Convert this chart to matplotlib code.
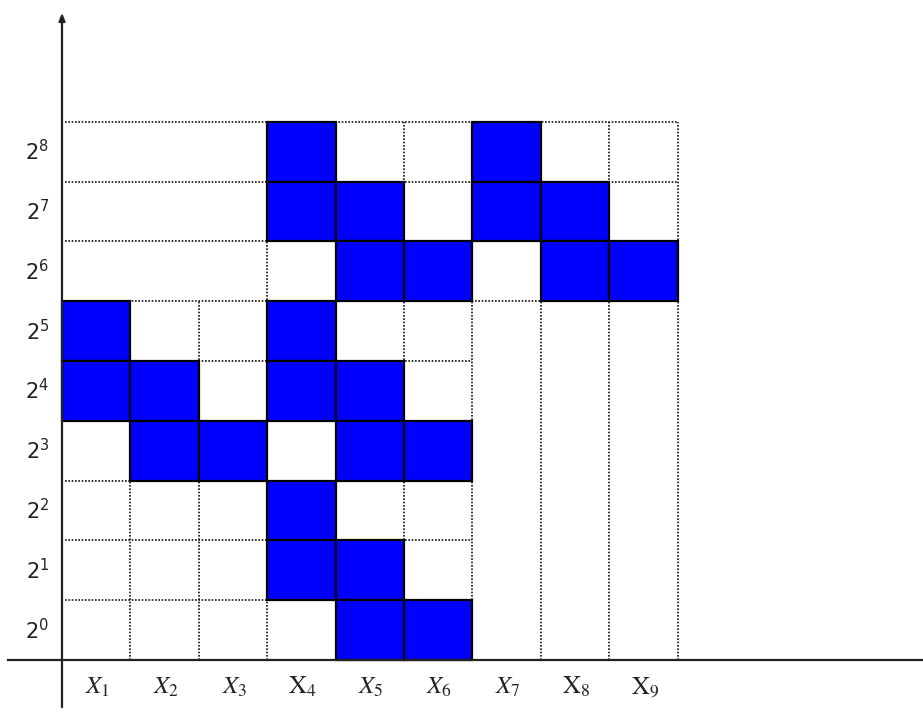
import matplotlib.pyplot as plt
from matplotlib.patches import Rectangle

plt.rcParams['mathtext.fontset'] = 'stix'

# column labels (some italic, some roman as in the picture)
col_labels = ['$X_1$', '$X_2$', '$X_3$', r'$\mathrm{X}_4$', '$X_5$', '$X_6$',
              '$X_7$', r'$\mathrm{X}_8$', r'$\mathrm{X}_9$']
# exponents k of the filled cells 2^k, per column
filled = [
    [5, 4],
    [4, 3],
    [3],
    [8, 7, 5, 4, 2, 1],
    [7, 6, 4, 3, 1, 0],
    [6, 3, 0],
    [8, 7],
    [7, 6],
    [6],
]
row_exps = list(range(9))

# dotted grid: horizontal levels and how many columns they cross,
# vertical boundaries and how high they go
h_levels = [1, 2, 3, 4, 5, 6, 7, 8, 9]
h_span = [6, 6, 6, 6, 6, 9, 9, 9, 9]
v_bounds = [1, 2, 3, 4, 5, 6, 7, 8, 9]
v_span = [6, 6, 9, 9, 9, 9, 9, 9, 9]

cw, ch = 68.4, 59.8  # pixel size of a cell
fig = plt.figure(figsize=(9.23, 7.17), dpi=100)
ax = fig.add_axes([0, 0, 1, 1])
ax.set_xlim(-62 / cw, (923 - 62) / cw)
ax.set_ylim(-57 / ch, 660 / ch)
ax.axis('off')

dot = dict(color='#111111', lw=1.2, linestyle=(0, (1, 1)), zorder=1)
for lev, n in zip(h_levels, h_span):
    ax.plot([0.04, n], [lev, lev], **dot)
for b, n in zip(v_bounds, v_span):
    ax.plot([b, b], [0, n], **dot)

for j, ks in enumerate(filled):
    for k in ks:
        ax.add_patch(Rectangle((j, k), 1, 1, facecolor='#0000ff',
                               edgecolor='black', lw=1.6, zorder=3))

# axes lines
ax.plot([-54 / cw, 12.6], [0, 0], color='#222222', lw=1.6, zorder=4)
ax.annotate('', xy=(0, 650 / ch), xytext=(0, -50 / ch),
            arrowprops=dict(arrowstyle='-|>,head_length=0.45,head_width=0.18',
                            color='#222222', lw=1.6), zorder=4)

for k in row_exps:
    ax.text(-0.36, k + 0.5, '2$^{%d}$' % k, fontsize=15, ha='center',
            va='center', color='#222222', math_fontfamily='dejavusans')
for j, lab in enumerate(col_labels):
    ax.text(j + 0.52, -0.45, lab, fontsize=18, ha='center', va='center',
            color='#222222')

fig.savefig('out.png', dpi=100)
